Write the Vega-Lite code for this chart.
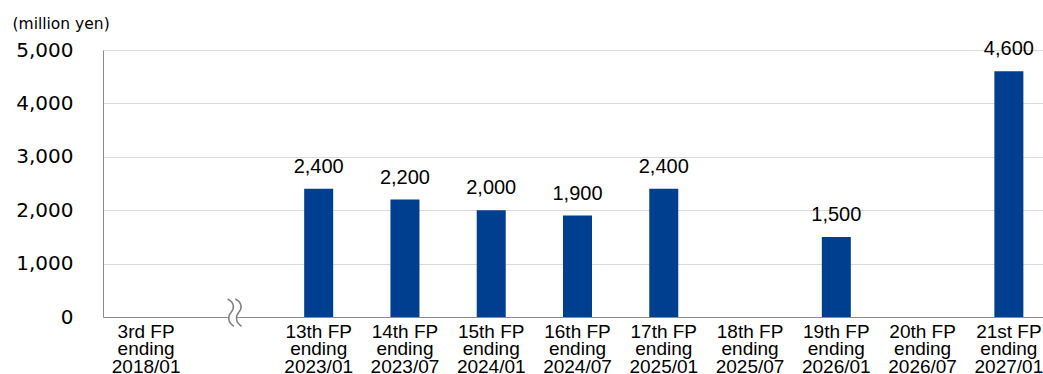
{
  "$schema": "https://vega.github.io/schema/vega-lite/v6.json",
  "autosize": {"type": "none"},
  "padding": {"left": 103, "top": 50, "right": 0, "bottom": 57},
  "width": 940,
  "height": 267,
  "config": {
    "view": {"stroke": null},
    "font": "Liberation Sans"
  },
  "data": {
    "values": [
      {"period": "3rd FP|ending|2018/01", "amount": null},
      {"period": "gap", "amount": null},
      {"period": "13th FP|ending|2023/01", "amount": 2400},
      {"period": "14th FP|ending|2023/07", "amount": 2200},
      {"period": "15th FP|ending|2024/01", "amount": 2000},
      {"period": "16th FP|ending|2024/07", "amount": 1900},
      {"period": "17th FP|ending|2025/01", "amount": 2400},
      {"period": "18th FP|ending|2025/07", "amount": null},
      {"period": "19th FP|ending|2026/01", "amount": 1500},
      {"period": "20th FP|ending|2026/07", "amount": null},
      {"period": "21st FP|ending|2027/01", "amount": 4600}
    ]
  },
  "encoding": {
    "x": {
      "field": "period",
      "type": "nominal",
      "sort": null,
      "scale": {
        "domain": [
          "3rd FP|ending|2018/01", "gap",
          "13th FP|ending|2023/01", "14th FP|ending|2023/07", "15th FP|ending|2024/01",
          "16th FP|ending|2024/07", "17th FP|ending|2025/01", "18th FP|ending|2025/07",
          "19th FP|ending|2026/01", "20th FP|ending|2026/07", "21st FP|ending|2027/01"
        ],
        "range": [0, 949],
        "paddingInner": 0,
        "paddingOuter": 0
      },
      "axis": {
        "title": null,
        "labelAngle": 0,
        "labelExpr": "datum.value == 'gap' ? '' : split(datum.value, '|')",
        "labelFont": "Liberation Sans",
        "labelFontSize": 19,
        "labelLineHeight": 17.5,
        "labelColor": "#000000",
        "labelPadding": 5,
        "labelBaseline": "top",
        "ticks": false,
        "domainColor": "#8c8c8c",
        "domainWidth": 1,
        "grid": false
      }
    }
  },
  "layer": [
    {
      "transform": [{"filter": "datum.amount != null"}],
      "mark": {"type": "bar", "size": 29, "color": "#003f8f"},
      "encoding": {
        "y": {
          "field": "amount",
          "type": "quantitative",
          "scale": {"domain": [0, 5000], "nice": false},
          "axis": {
            "title": "(million yen)",
            "titleAngle": 0,
            "titleX": -91,
            "titleY": -22,
            "titleAlign": "left",
            "titleBaseline": "alphabetic",
            "titleFont": "DejaVu Sans",
            "titleFontSize": 15.5,
            "titleFontWeight": "normal",
            "titleColor": "#000000",
            "values": [0, 1000, 2000, 3000, 4000, 5000],
            "format": ",d",
            "labelFont": "DejaVu Sans",
            "labelFontSize": 20,
            "labelColor": "#000000",
            "labelPadding": 30,
            "ticks": false,
            "domainColor": "#8c8c8c",
            "domainWidth": 1,
            "gridColor": "#d9d9d9",
            "gridWidth": 1
          }
        }
      }
    },
    {
      "transform": [{"filter": "datum.amount != null"}],
      "mark": {"type": "text", "baseline": "alphabetic", "dy": -16, "fontSize": 20, "font": "Liberation Sans", "color": "#000000"},
      "encoding": {
        "y": {"field": "amount", "type": "quantitative"},
        "text": {"field": "amount", "type": "quantitative", "format": ",d"}
      }
    },
    {
      "transform": [{"filter": "datum.period == 'gap'"}],
      "mark": {
        "type": "point",
        "filled": true,
        "fill": "#ffffff",
        "strokeWidth": 0,
        "opacity": 1,
        "size": 784,
        "xOffset": 1.5,
        "yOffset": -4,
        "shape": "M -0.45,-1 C 0.05,-0.75 0.05,-0.35 -0.2,-0.05 C -0.45,0.25 -0.45,0.65 0,0.95 L 0.55,0.95 C 0.1,0.65 0.1,0.25 0.35,-0.05 C 0.6,-0.35 0.6,-0.75 0.1,-1 Z"
      },
      "encoding": {
        "y": {"datum": 0, "type": "quantitative"}
      }
    },
    {
      "transform": [{"filter": "datum.period == 'gap'"}],
      "mark": {
        "type": "point",
        "filled": false,
        "stroke": "#7f7f7f",
        "strokeWidth": 1.5,
        "opacity": 1,
        "size": 784,
        "xOffset": 1.5,
        "yOffset": -4,
        "shape": "M -0.45,-1 C 0.05,-0.75 0.05,-0.35 -0.2,-0.05 C -0.45,0.25 -0.45,0.65 0,0.95 M 0.1,-1 C 0.6,-0.75 0.6,-0.35 0.35,-0.05 C 0.1,0.25 0.1,0.65 0.55,0.95"
      },
      "encoding": {
        "y": {"datum": 0, "type": "quantitative"}
      }
    }
  ]
}
